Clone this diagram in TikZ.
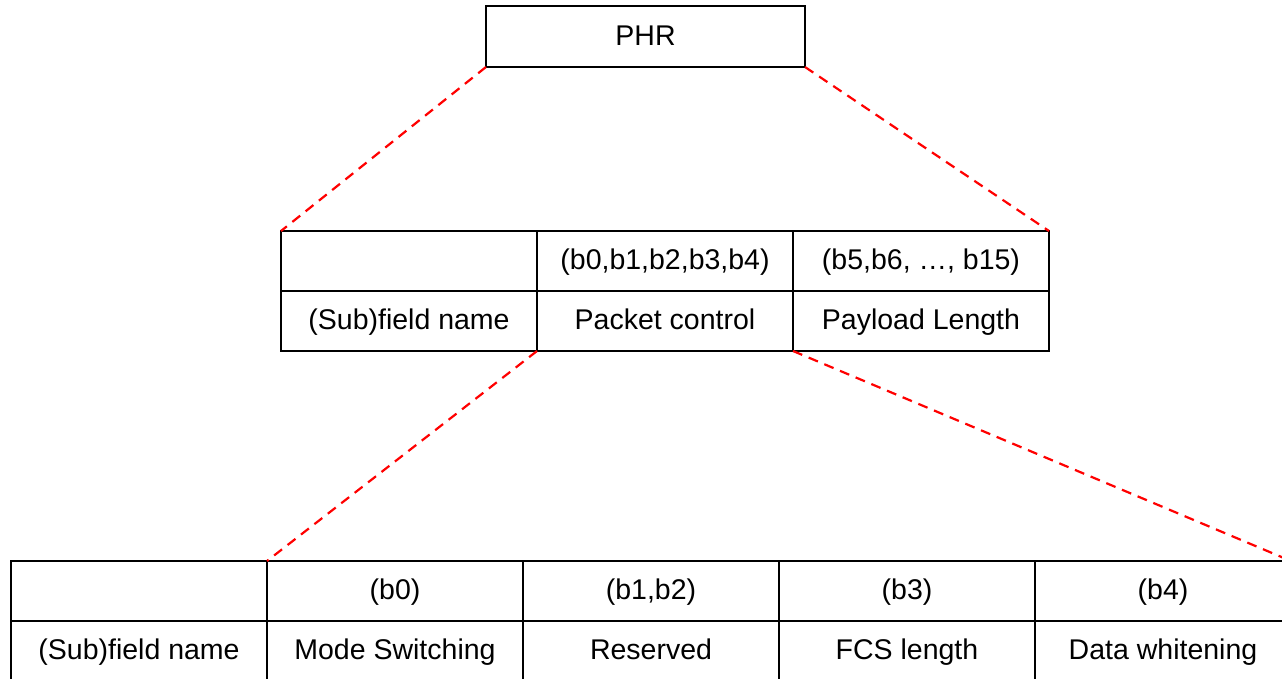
\documentclass[tikz,border=0pt]{standalone}
\usepackage{fontspec}
\setmainfont{Liberation Sans}
\tikzset{
  cell/.style={draw, line width=2.8pt, outer sep=0pt, inner sep=0pt,
    minimum width=256pt, minimum height=60pt, text height=23pt, text depth=5.5pt,
    font=\fontsize{28.5}{34}\selectfont},
  zoomline/.style={red, line width=2.2pt, dash pattern=on 10pt off 7pt},
}
\begin{document}
\begin{tikzpicture}[x=1pt,y=-1pt]
    \newcommand{\midleft}{281}  % left edge of the middle table
    \newcommand{\botleft}{11}   % left edge of the lower table
    \newcommand{\colw}{256}     % width of one column
    \useasboundingbox (0,0) rectangle (1282,679);
    \clip (0,0) rectangle (1282,679);

    % PHR box
    \node[cell, minimum width=319pt, minimum height=61pt] (phr) at (645.5,36.5) {PHR};

    % middle table
    \foreach \toptxt/\bottxt [count=\i] in {{}/{(Sub)field name},
        {(b0,b1,b2,b3,b4)}/{Packet control},
        {(b5,b6, …, b15)}/{Payload Length}}
    {
      \node[cell] (mt\i) at (\midleft+\colw*\i-\colw/2,261) {\toptxt};
      \node[cell] (mb\i) at (\midleft+\colw*\i-\colw/2,321) {\bottxt};
    }

    % lower table
    \foreach \toptxt/\bottxt [count=\i] in {{}/{(Sub)field name},
        {(b0)}/{Mode Switching},
        {(b1,b2)}/{Reserved},
        {(b3)}/{FCS length},
        {(b4)}/{Data whitening}}
    {
      \node[cell] (bt\i) at (\botleft+\colw*\i-\colw/2,591) {\toptxt};
      \node[cell] (bb\i) at (\botleft+\colw*\i-\colw/2,651) {\bottxt};
    }

    % zoom lines
    \draw[zoomline] (phr.south west) -- (mt1.north west);
    \draw[zoomline] (phr.south east) -- (mt3.north east);
    \draw[zoomline] (mb2.south west) -- (bt2.north west);
    \draw[zoomline] (mb2.south east) -- (bt5.north east);
\end{tikzpicture}
\end{document}
